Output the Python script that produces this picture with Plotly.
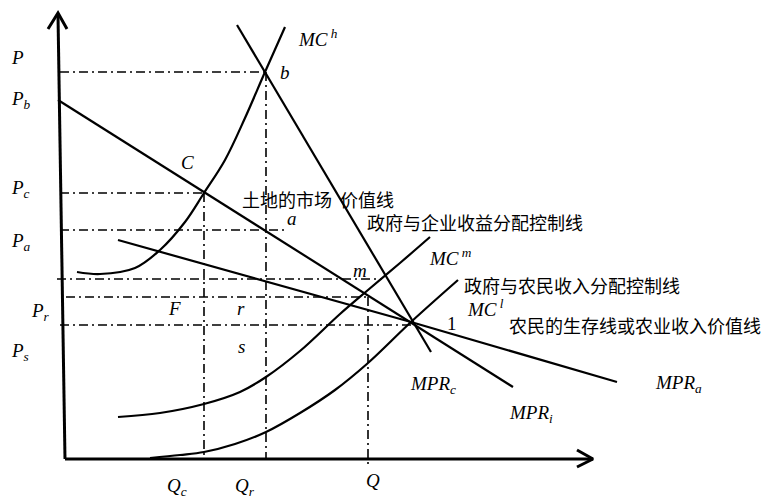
import plotly.graph_objects as go

# ---- data (diagram coordinates; y grows downward) ----
axis_v_x = [58, 65]
axis_v_y = [15, 459]
axis_h_x = [65, 593]
axis_h_y = [459, 459]
arrow_v_x = [48, 58, 67]
arrow_v_y = [29, 13, 29]
arrow_h_x = [577, 593, 577]
arrow_h_y = [450, 459, 467]

mch_x = [77, 100, 135, 160, 185, 204, 225, 245, 265, 285]
mch_y = [272, 274, 268, 250, 222, 193, 160, 118, 72, 27]
mprc_x = [237, 265, 431]
mprc_y = [25, 72, 352]
mpri_x = [58, 204, 411, 513]
mpri_y = [100, 192, 322, 387]
mpra_x = [118, 411, 617]
mpra_y = [240, 322, 382]
mcm_x = [118, 160, 204, 240, 266, 300, 340, 368, 400, 430]
mcm_y = [417, 413, 404, 392, 377, 351, 314, 290, 263, 237]
mcl_x = [150, 180, 204, 235, 266, 300, 335, 368, 411, 458]
mcl_y = [458, 455, 452, 444, 432, 413, 390, 363, 322, 280]

# guide lines: horizontal (y, x0, x1) and vertical (x, y0, y1)
h_guides_y = [72, 193, 230, 279, 297, 325]
h_guides_x0 = [60, 60, 60, 57, 66, 60]
h_guides_x1 = [265, 204, 285, 382, 368, 411]
v_guides_x = [204, 266, 368]
v_guides_y0 = [193, 72, 297]
v_guides_y1 = [458, 458, 466]

math_labels = ["P", "P<sub>b</sub>", "P<sub>c</sub>", "P<sub>a</sub>", "P<sub>r</sub>", "P<sub>s</sub>",
               "b", "C", "a", "m", "F", "r", "s",
               "MC<sup> h</sup>", "MC<sup> m</sup>", "MC<sup> l</sup>",
               "MPR<sub>c</sub>", "MPR<sub>i</sub>", "MPR<sub>a</sub>",
               "Q<sub>c</sub>", "Q<sub>r</sub>", "Q"]
math_x = [9, 9, 9, 9, 29, 9,
          278, 179, 285, 351, 166, 235, 236,
          296, 427, 465,
          408, 507, 653,
          165, 233, 364]
math_y = [57, 100, 189, 242, 312, 352,
          72, 162, 218, 270, 308, 308, 346,
          38, 257, 308,
          385, 414, 384,
          487, 487, 480]

plain_labels = ["1"]
plain_x = [445]
plain_y = [323]

cn_labels = ["土地的市场  价值线", "政府与企业收益分配控制线", "政府与农民收入分配控制线",
             "农民的生存线或农业收入价值线"]
cn_x = [240, 365, 462, 507]
cn_y = [199, 222, 285, 325]

# page offset of the figure inside the HTML body
OFF = 8

# ---- figure ----
fig = go.Figure()
BLACK = "#000000"

def line(x, y, width=2.0, dash="solid", shape="linear"):
    fig.add_trace(go.Scatter(x=x, y=y, mode="lines", hoverinfo="skip",
                             line=dict(color=BLACK, width=width, dash=dash, shape=shape)))

# guides
DD = "9px,4px,2px,4px"
for yy, a, b in zip(h_guides_y, h_guides_x0, h_guides_x1):
    line([a, b], [yy, yy], width=1.6, dash=DD)
for xx, a, b in zip(v_guides_x, v_guides_y0, v_guides_y1):
    line([xx, xx], [a, b], width=1.6, dash=DD)

# axes
line(axis_v_x, axis_v_y, width=3)
line(axis_h_x, axis_h_y, width=3)
line(arrow_v_x, arrow_v_y, width=3)
line(arrow_h_x, arrow_h_y, width=3)

# curves
line(mch_x, mch_y, width=2.2, shape="spline")
line(mprc_x, mprc_y, width=2.2)
line(mpri_x, mpri_y, width=2.2)
line(mpra_x, mpra_y, width=2.2)
line(mcm_x, mcm_y, width=2.2, shape="spline")
line(mcl_x, mcl_y, width=2.2, shape="spline")

for t, x, y in zip(math_labels, math_x, math_y):
    fig.add_annotation(x=x, y=y, text="<i>" + t + "</i>", showarrow=False,
                       xanchor="left", yanchor="middle",
                       font=dict(family="Liberation Serif", size=19, color=BLACK))

for t, x, y in zip(plain_labels, plain_x, plain_y):
    fig.add_annotation(x=x, y=y, text=t, showarrow=False,
                       xanchor="left", yanchor="middle",
                       font=dict(family="Liberation Serif", size=19, color=BLACK))

for t, x, y in zip(cn_labels, cn_x, cn_y):
    fig.add_annotation(x=x, y=y, text=t, showarrow=False,
                       xanchor="left", yanchor="middle",
                       font=dict(family="Noto Sans CJK SC", size=18, color=BLACK))

fig.update_layout(
    width=771, height=496,
    margin=dict(l=0, r=0, t=0, b=0),
    paper_bgcolor="white", plot_bgcolor="white",
    showlegend=False,
    xaxis=dict(range=[OFF, 771 + OFF], visible=False, fixedrange=True),
    yaxis=dict(range=[496 + OFF, OFF], visible=False, fixedrange=True),
)

fig.write_html("out.html")
